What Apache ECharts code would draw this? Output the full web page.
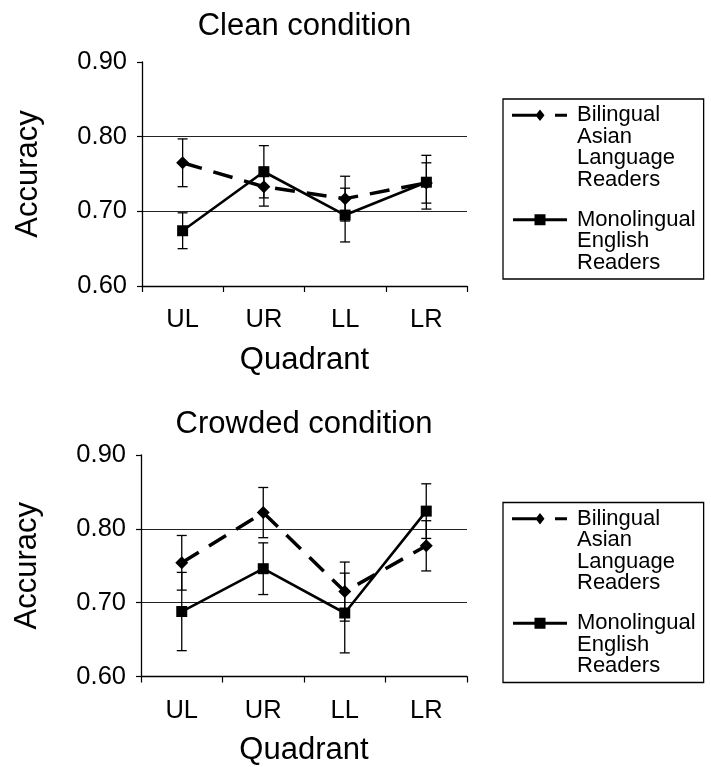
<!DOCTYPE html>
<html><head><meta charset="utf-8">
<script src="https://cdn.jsdelivr.net/npm/echarts@6/dist/echarts.min.js"></script>
<style>html,body{margin:0;padding:0;background:#fff}#c{width:711px;height:767px}</style>
</head><body><div id="c"></div>
<script>
// ---- data ----
const categories = ['UL', 'UR', 'LL', 'LR'];
const yTicks = [0.60, 0.70, 0.80, 0.90];
const chartTitles = ['Clean condition', 'Crowded condition'];
const xName = 'Quadrant';
const yName = 'Accuracy';
const nameBilingual = 'Bilingual\nAsian\nLanguage\nReaders';
const nameMonolingual = 'Monolingual\nEnglish\nReaders';

const cleanBilingual = [0.765, 0.733, 0.717, 0.738];
const cleanBilingualErr = [0.032, 0.026, 0.030, 0.027];
const cleanMonolingual = [0.674, 0.753, 0.695, 0.739];
const cleanMonolingualErr = [0.024, 0.035, 0.036, 0.036];

const crowdedBilingual = [0.754, 0.822, 0.715, 0.777];
const crowdedBilingualErr = [0.037, 0.034, 0.040, 0.034];
const crowdedMonolingual = [0.688, 0.746, 0.686, 0.824];
const crowdedMonolingualErr = [0.053, 0.035, 0.054, 0.037];

// ---- styling ----
const FONT = '"Liberation Sans", Arial, Helvetica, sans-serif';
const BLACK = '#000';
const grids = [
  {left: 142, top: 62, width: 325, height: 224},
  {left: 141, top: 455, width: 326, height: 225}
];
const titleTops = [11, 409];
const legendTops = [99, 502.5];

const iconBilingual = 'path://M0 0L0 0M60 86L60 86M0 9.25H26V12.25H0ZM28 5L32.5 10.75L28 16.5L23.5 10.75ZM43 9.25H55V12.25H43Z';
const iconMonolingual = 'path://M0 0L0 0M60 64.5L60 64.5M1 9.25H55V12.25H1ZM22.5 5.25H33.5V16.25H22.5Z';

function errData(vals, errs) {
  return vals.map((v, i) => [i, v, errs[i]]);
}
function renderErr(params, api) {
  const x = api.value(0), v = api.value(1), e = api.value(2);
  const hi = api.coord([x, v + e]);
  const lo = api.coord([x, v - e]);
  const w = 5;
  const st = {stroke: BLACK, lineWidth: 1.3};
  return {type: 'group', children: [
    {type: 'line', shape: {x1: hi[0], y1: hi[1], x2: lo[0], y2: lo[1]}, style: st},
    {type: 'line', shape: {x1: hi[0] - w, y1: hi[1], x2: hi[0] + w, y2: hi[1]}, style: st},
    {type: 'line', shape: {x1: lo[0] - w, y1: lo[1], x2: lo[0] + w, y2: lo[1]}, style: st}
  ]};
}

const panels = [
  {bil: cleanBilingual, bilErr: cleanBilingualErr, mono: cleanMonolingual, monoErr: cleanMonolingualErr},
  {bil: crowdedBilingual, bilErr: crowdedBilingualErr, mono: crowdedMonolingual, monoErr: crowdedMonolingualErr}
];

const option = {
  backgroundColor: '#fff',
  animation: false,
  textStyle: {fontFamily: FONT, color: BLACK},
  title: chartTitles.map((t, i) => ({
    text: t, left: grids[i].left + grids[i].width / 2, top: titleTops[i],
    textAlign: 'center', padding: 0,
    textStyle: {fontSize: 31, fontWeight: 'normal', color: BLACK, fontFamily: FONT}
  })),
  legend: legendTops.map((top) => ({
    orient: 'vertical', left: 503, top: top,
    padding: [5.25, 8, 5.25, 9],
    itemGap: 18, itemWidth: 60, itemHeight: 86,
    symbolKeepAspect: true,
    selectedMode: false,
    borderColor: BLACK, borderWidth: 1.3, backgroundColor: '#fff',
    textStyle: {fontSize: 22, lineHeight: 21.5, color: BLACK, fontFamily: FONT},
    itemStyle: {color: BLACK, borderWidth: 0},
    data: [
      {name: nameBilingual, icon: iconBilingual},
      {name: nameMonolingual, icon: iconMonolingual}
    ]
  })),
  grid: grids,
  xAxis: grids.map((g, i) => ({
    type: 'category', gridIndex: i, data: categories, boundaryGap: true,
    name: xName, nameLocation: 'middle', nameGap: 58.5,
    nameTextStyle: {fontSize: 31, color: BLACK, fontFamily: FONT},
    axisLine: {lineStyle: {color: BLACK, width: 1.3}},
    axisTick: {show: true, length: 6, alignWithLabel: false, lineStyle: {color: BLACK, width: 1.2}},
    axisLabel: {fontSize: 25.5, color: BLACK, margin: 21, fontFamily: FONT},
    splitLine: {show: false}
  })),
  yAxis: grids.map((g, i) => ({
    type: 'value', gridIndex: i,
    min: yTicks[0], max: yTicks[yTicks.length - 1], interval: 0.1,
    name: yName, nameLocation: 'middle', nameGap: 98, nameRotate: 90,
    nameTextStyle: {fontSize: 31, color: BLACK, fontFamily: FONT},
    axisLine: {show: true, lineStyle: {color: BLACK, width: 1.3}},
    axisTick: {show: true, length: 5, lineStyle: {color: BLACK, width: 1.2}},
    axisLabel: {fontSize: 25.5, color: BLACK, margin: 15, fontFamily: FONT,
      formatter: (v) => v.toFixed(2)},
    splitLine: {show: true, showMinLine: false, showMaxLine: false,
      lineStyle: {color: '#222', width: 1.2}}
  })),
  series: []
};

panels.forEach((p, i) => {
  option.series.push(
    {type: 'custom', xAxisIndex: i, yAxisIndex: i, renderItem: renderErr,
     data: errData(p.mono, p.monoErr), encode: {x: 0, y: 1}, z: 1, silent: true},
    {type: 'custom', xAxisIndex: i, yAxisIndex: i, renderItem: renderErr,
     data: errData(p.bil, p.bilErr), encode: {x: 0, y: 1}, z: 1, silent: true},
    {type: 'line', name: nameMonolingual, xAxisIndex: i, yAxisIndex: i, data: p.mono,
     symbol: 'rect', symbolSize: 11, showSymbol: true, z: 3,
     lineStyle: {color: BLACK, width: 2.6, type: 'solid'},
     itemStyle: {color: BLACK, borderWidth: 0}},
    {type: 'line', name: nameBilingual, xAxisIndex: i, yAxisIndex: i, data: p.bil,
     symbol: 'diamond', symbolSize: [13, 13], showSymbol: true, z: 2,
     lineStyle: {color: BLACK, width: 3.5, type: [20, 12]},
     itemStyle: {color: BLACK, borderWidth: 0}}
  );
});

const chart = echarts.init(document.getElementById('c'), null, {renderer: 'canvas'});
chart.setOption(option);
</script>
</body></html>
